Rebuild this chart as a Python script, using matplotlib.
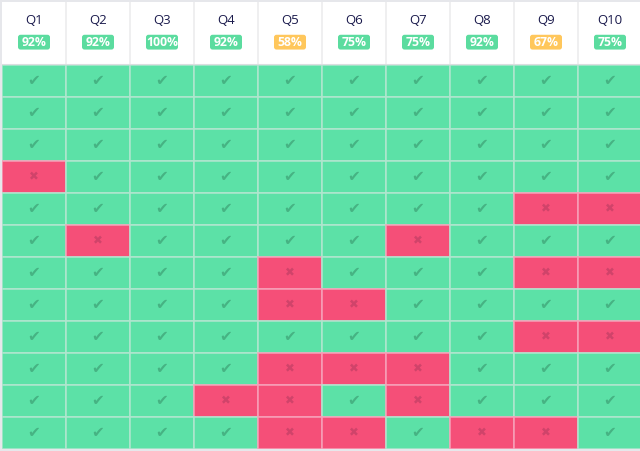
import numpy as np
import matplotlib.pyplot as plt
from matplotlib.patches import Rectangle, FancyBboxPatch

questions = ['Q1', 'Q2', 'Q3', 'Q4', 'Q5', 'Q6', 'Q7', 'Q8', 'Q9', 'Q10']
# 1 = correct, 0 = wrong ; one row per respondent
answers = np.array([
    [1, 1, 1, 1, 1, 1, 1, 1, 1, 1],
    [1, 1, 1, 1, 1, 1, 1, 1, 1, 1],
    [1, 1, 1, 1, 1, 1, 1, 1, 1, 1],
    [0, 1, 1, 1, 1, 1, 1, 1, 1, 1],
    [1, 1, 1, 1, 1, 1, 1, 1, 0, 0],
    [1, 0, 1, 1, 1, 1, 0, 1, 1, 1],
    [1, 1, 1, 1, 0, 1, 1, 1, 0, 0],
    [1, 1, 1, 1, 0, 0, 1, 1, 1, 1],
    [1, 1, 1, 1, 1, 1, 1, 1, 0, 0],
    [1, 1, 1, 1, 0, 0, 0, 1, 1, 1],
    [1, 1, 1, 0, 0, 1, 0, 1, 1, 1],
    [1, 1, 1, 1, 0, 0, 1, 0, 0, 1],
])
pct_labels = ['92%', '92%', '100%', '92%', '58%', '75%', '75%', '92%', '67%', '75%']

green = '#5ce1a7'
red = '#f54f78'
badge_green = '#5bdc9f'
badge_orange = '#ffc75c'

plt.rcParams['font.family'] = ['Open Sans', 'DejaVu Sans']

W, H = 640, 451
fig = plt.figure(figsize=(6.4, 4.51), dpi=100, facecolor='#e6e7eb')

n_rows, n_cols = answers.shape

# header
hax = fig.add_axes([2 / W, (H - 65) / H, 640 / W, 63 / H])
hax.set_xlim(0, n_cols)
hax.set_ylim(1, 0)
hax.axis('off')
hax.add_patch(Rectangle((0, 0), n_cols, 1, facecolor='white', edgecolor='none'))
for j, q in enumerate(questions):
    if j > 0:
        hax.plot([j, j], [0, 1], color='#ececee', lw=1.2)
    hax.text(j + 0.5, 0.29, q, ha='center', va='center', fontsize=9.5, color='#1a1a4c')
    frac = answers[:, j].mean()
    bc = badge_green if frac >= 0.7 else badge_orange
    bw = 0.5
    hax.add_patch(FancyBboxPatch((j + 0.5 - bw / 2, 0.52), bw, 0.235,
                                 boxstyle='round,pad=0,rounding_size=0.04',
                                 facecolor=bc, edgecolor='none', mutation_aspect=1))
    hax.text(j + 0.5, 0.64, pct_labels[j], ha='center', va='center', fontsize=8.8,
             color='white', fontweight='bold')
hax.plot([0, n_cols], [1, 1], color='#dcdde0', lw=1.5)

# grid of answers
ax = fig.add_axes([2 / W, 2 / H, 640 / W, 384 / H])
ax.set_xlim(0, n_cols)
ax.set_ylim(n_rows, 0)
ax.axis('off')
for i in range(n_rows):
    for j in range(n_cols):
        ok = answers[i, j] == 1
        ax.add_patch(Rectangle((j, i), 1, 1, facecolor=green if ok else red,
                               edgecolor='#b0e6cf' if ok else '#f7a0b8', lw=1.1))
        ax.text(j + 0.5, i + 0.5, '✔' if ok else '✖', ha='center', va='center',
                fontsize=11 if ok else 8.5,
                color='#46b383' if ok else '#d0436a',
                family=['DejaVu Sans'])

fig.savefig('out.png', dpi=100, facecolor=fig.get_facecolor())
